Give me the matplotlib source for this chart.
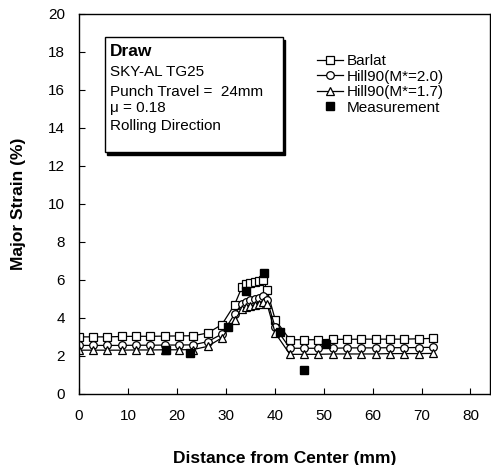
import matplotlib.pyplot as plt
from matplotlib.patches import Rectangle

plt.rcParams['font.family'] = ['Liberation Sans', 'DejaVu Sans']

# DATA
dist = [0, 2.9, 5.8, 8.7, 11.6, 14.6, 17.5, 20.4, 23.3, 26.3, 29.2, 31.8,
        33.3, 34.2, 35.0, 35.9, 36.7, 37.7, 38.4, 40.1,
        43.1, 46.0, 48.9, 51.9, 54.8, 57.7, 60.6, 63.5, 66.4, 69.4, 72.3]

barlat = [3.0, 3.0, 3.0, 3.02, 3.03, 3.03, 3.04, 3.05, 3.06, 3.2, 3.65, 4.7,
          5.62, 5.77, 5.83, 5.88, 5.95, 6.0, 5.47, 3.9,
          2.85, 2.85, 2.85, 2.87, 2.87, 2.88, 2.88, 2.88, 2.88, 2.9, 2.92]

hill_20 = [2.55, 2.55, 2.55, 2.55, 2.56, 2.56, 2.57, 2.57, 2.58, 2.75, 3.15, 4.2,
           4.75, 4.85, 4.95, 5.0, 5.05, 5.15, 4.95, 3.5,
           2.4, 2.4, 2.4, 2.4, 2.42, 2.42, 2.42, 2.43, 2.43, 2.44, 2.45]

hill_17 = [2.3, 2.3, 2.3, 2.3, 2.31, 2.31, 2.32, 2.32, 2.33, 2.5, 2.95, 3.9,
           4.45, 4.55, 4.6, 4.7, 4.75, 4.85, 4.75, 3.2,
           2.08, 2.08, 2.08, 2.1, 2.1, 2.1, 2.1, 2.12, 2.12, 2.12, 2.13]

meas_x = [17.8, 22.6, 30.4, 34.2, 37.8, 41.1, 46.0, 50.5]
meas_y = [2.32, 2.14, 3.5, 5.42, 6.35, 3.28, 1.26, 2.63]

info_lines = ["SKY-AL TG25", "Punch Travel =  24mm", "\u03bc = 0.18", "Rolling Direction"]

# FIGURE
fig = plt.figure(figsize=(4.91, 4.65), dpi=100)
ax = fig.add_axes([0.161, 0.153, 0.837, 0.817])

ax.plot(dist, barlat, color="black", lw=0.9, marker="s", ms=5.5,
        mfc="white", mec="black", mew=0.9, label="Barlat")
ax.plot(dist, hill_20, color="black", lw=0.9, marker="o", ms=5.5,
        mfc="white", mec="black", mew=0.9, label="Hill90(M*=2.0)")
ax.plot(dist, hill_17, color="black", lw=0.9, marker="^", ms=5.5,
        mfc="white", mec="black", mew=0.9, label="Hill90(M*=1.7)")
ax.plot(meas_x, meas_y, ls="none", marker="s", ms=6, color="black",
        label="Measurement")

ax.set_xlim(0, 84)
ax.set_ylim(0, 20)
ax.set_xticks(range(0, 81, 10))
ax.set_yticks(range(0, 21, 2))
ax.tick_params(direction="in", length=4, labelsize=11)
ax.tick_params(axis="x", pad=11)
ax.tick_params(axis="y", pad=10)
for s in ax.spines.values():
    s.set_linewidth(1.0)

ax.set_xlabel("Distance from Center (mm)", fontsize=12.5, fontweight="bold", labelpad=20)
ax.set_ylabel("Major Strain (%)", fontsize=12.5, fontweight="bold", labelpad=16)

leg = ax.legend(loc="upper left", bbox_to_anchor=(0.565, 0.91), frameon=False,
                fontsize=11, handlelength=1.7, handletextpad=0.2,
                labelspacing=0.1, borderaxespad=0)

# TEXT BOX
ax.add_patch(Rectangle((0.068, 0.630), 0.433, 0.302, transform=ax.transAxes,
                       facecolor="black", edgecolor="black", zorder=4))
ax.add_patch(Rectangle((0.063, 0.637), 0.433, 0.302, transform=ax.transAxes,
                       facecolor="white", edgecolor="black", lw=1.0, zorder=5))
ax.text(0.075, 0.900, "Draw", transform=ax.transAxes, fontsize=12.5,
        fontweight="bold", va="center", zorder=6)
ys = [0.847, 0.795, 0.752, 0.705]
for y, line in zip(ys, info_lines):
    ax.text(0.075, y, line, transform=ax.transAxes, fontsize=11,
            va="center", zorder=6)

fig.savefig("out.png", dpi=100)
